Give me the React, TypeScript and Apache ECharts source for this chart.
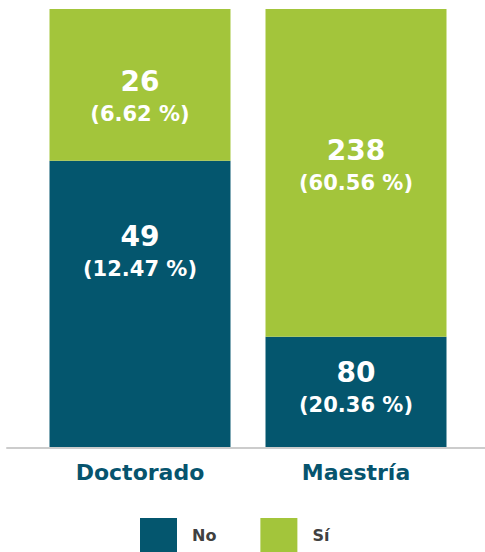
import React, { useEffect, useRef } from "react";
import * as echarts from "echarts";

const categories = ["Doctorado", "Maestría"];
const seriesNames = ["No", "Sí"];
const noValues = [49, 80];
const siValues = [26, 238];
// label vertical shifts (px) per category, for No and Sí
const noLabelShift = [-51, -3];
const siLabelShift = [13, -6];

const TEAL = "#04566e";
const GREEN = "#a3c53b";
const FONT = "'DejaVu Sans', sans-serif";

export default function App() {
  const ref = useRef<HTMLDivElement>(null);
  useEffect(() => {
    if (!ref.current) return;
    const chart = echarts.init(ref.current, undefined, { renderer: "svg" });
    const total = [...noValues, ...siValues].reduce((a, b) => a + b, 0);
    const catTotals = categories.map((_, i) => noValues[i] + siValues[i]);

    const makeData = (vals: number[], shifts: number[]) =>
      vals.map((v, i) => ({
        value: v / catTotals[i],
        raw: v,
        label: { offset: [0, shifts[i]] },
      }));

    const labelCfg = {
      show: true,
      position: "inside",
      formatter: (p: any) => {
        const raw = p.data.raw;
        return `{a|${raw}}\n{b|(${((raw / total) * 100).toFixed(2)} %)}`;
      },
      rich: {
        a: { fontFamily: FONT, fontWeight: "bold", fontSize: 28, lineHeight: 32, color: "#fff" },
        b: { fontFamily: FONT, fontWeight: "bold", fontSize: 21, lineHeight: 33, color: "#fff" },
      },
    };

    chart.setOption({
      animation: false,
      grid: [
        { left: 32, right: 21, top: 9, bottom: 105 },
        { left: 7, right: 0, top: 9, bottom: 104 },
      ],
      legend: {
        data: seriesNames,
        left: 135,
        top: 513,
        itemWidth: 37,
        itemHeight: 34,
        itemGap: 44,
        icon: "rect",
        textStyle: { fontFamily: FONT, fontWeight: "bold", fontSize: 16, color: "#404040", padding: [0, 0, 0, 10] },
      },
      xAxis: [
        {
          type: "category",
          data: categories,
          gridIndex: 0,
          axisLine: { show: false },
          axisTick: { show: false },
          axisLabel: {
            margin: 14,
            fontFamily: FONT,
            fontWeight: "bold",
            fontSize: 22,
            color: "#06546e",
          },
        },
        {
          type: "value",
          gridIndex: 1,
          axisLine: { show: true, lineStyle: { color: "#cccccc", width: 2 } },
          axisTick: { show: false },
          axisLabel: { show: false },
          splitLine: { show: false },
        },
      ],
      yAxis: [
        { type: "value", gridIndex: 0, min: 0, max: 1, show: false },
        { type: "value", gridIndex: 1, show: false },
      ],
      series: [
        {
          name: "No",
          type: "bar",
          stack: "t",
          barWidth: 181,
          itemStyle: { color: TEAL },
          label: labelCfg,
          data: makeData(noValues, noLabelShift),
        },
        {
          name: "Sí",
          type: "bar",
          stack: "t",
          barWidth: 181,
          itemStyle: { color: GREEN },
          label: labelCfg,
          data: makeData(siValues, siLabelShift),
        },
      ],
    });
    return () => chart.dispose();
  }, []);
  return <div ref={ref} style={{ width: 485, height: 552, position: "absolute", left: 0, top: 0 }} />;
}
